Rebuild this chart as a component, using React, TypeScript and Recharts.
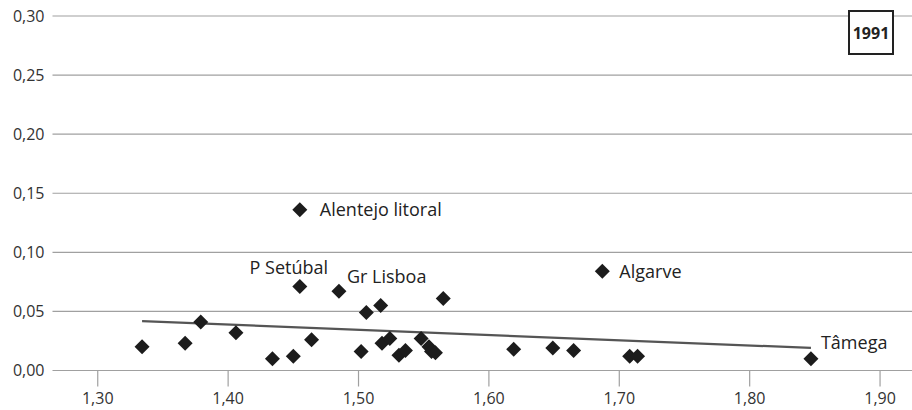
import React from 'react';
import { ScatterChart, Scatter, XAxis, YAxis, CartesianGrid, ReferenceLine } from 'recharts';

// ratio (x) vs index (y), NUTS III regions, 1991
const xValues = [
  1.334, 1.367, 1.379, 1.406, 1.434, 1.450, 1.455, 1.455, 1.464, 1.485,
  1.502, 1.506, 1.517, 1.518, 1.524, 1.531, 1.536, 1.548, 1.554, 1.556,
  1.559, 1.565, 1.619, 1.649, 1.665, 1.687, 1.708, 1.714, 1.847,
];
const yValues = [
  0.020, 0.023, 0.041, 0.032, 0.010, 0.012, 0.071, 0.136, 0.026, 0.067,
  0.016, 0.049, 0.055, 0.023, 0.027, 0.013, 0.017, 0.027, 0.020, 0.016,
  0.015, 0.061, 0.018, 0.019, 0.017, 0.084, 0.012, 0.012, 0.010,
];
const pointNames = [
  '', '', '', '', '', '', 'P Setúbal', 'Alentejo litoral', '', 'Gr Lisboa',
  '', '', '', '', '', '', '', '', '', '',
  '', '', '', '', '', 'Algarve', '', '', 'Tâmega',
];

const xTicks = [1.3, 1.4, 1.5, 1.6, 1.7, 1.8, 1.9];
const yTicks = [0, 0.05, 0.1, 0.15, 0.2, 0.25, 0.3];

// trend line end points
const trendStart = { x: 1.334, y: 0.0418 };
const trendEnd = { x: 1.847, y: 0.0191 };

const yearLabel = '1991';

const data = xValues.map((x, i) => ({ x, y: yValues[i], name: pointNames[i] }));

// where each annotation sits relative to its marker
const labelOffset: Record<string, { dx: number; dy: number; anchor: string }> = {
  'Alentejo litoral': { dx: 20, dy: 0, anchor: 'start' },
  Algarve: { dx: 17, dy: 0, anchor: 'start' },
  'P Setúbal': { dx: -11, dy: -19, anchor: 'middle' },
  'Gr Lisboa': { dx: 8, dy: -15, anchor: 'start' },
  'Tâmega': { dx: 10, dy: -16, anchor: 'start' },
};

const FONT = '"Open Sans", sans-serif';
const fmt = (v: number) => v.toFixed(2).replace('.', ',');

const Diamond = (props: any) => {
  const { cx, cy, payload } = props;
  const r = 7.5;
  const lbl = payload && payload.name ? labelOffset[payload.name] : null;
  return (
    <g>
      <polygon
        points={`${cx},${cy - r} ${cx + r},${cy} ${cx},${cy + r} ${cx - r},${cy}`}
        fill="#1c1c1c"
      />
      {lbl && (
        <text
          x={cx + lbl.dx}
          y={cy + lbl.dy}
          dy="0.36em"
          textAnchor={lbl.anchor}
          fontSize={18}
          fontFamily={FONT}
          fill="#222"
        >
          {payload.name}
        </text>
      )}
    </g>
  );
};

export default function App() {
  return (
    <div style={{ position: 'absolute', left: 0, top: 0, width: 912, height: 410, fontFamily: FONT }}>
      <ScatterChart width={912} height={410} margin={{ top: 16, right: 0, bottom: 0, left: 0 }}>
        <CartesianGrid vertical={false} stroke="#a0a0a0" strokeWidth={1.2} />
        <XAxis
          type="number"
          dataKey="x"
          domain={[1.2653, 1.9245]}
          ticks={xTicks}
          allowDataOverflow
          axisLine={false}
          tickSize={16}
          tickMargin={6}
          tickLine={{ stroke: '#a0a0a0', strokeWidth: 1.2 }}
          height={39.5}
          tickFormatter={fmt}
          tick={{ fontSize: 16, fontFamily: FONT, fill: '#333' }}
        />
        <YAxis
          type="number"
          dataKey="y"
          domain={[0, 0.3]}
          ticks={yTicks}
          width={52.5}
          axisLine={false}
          tickLine={false}
          tickFormatter={fmt}
          tick={{ fontSize: 16, fontFamily: FONT, fill: '#333' }}
        />
        <ReferenceLine
          segment={[trendStart, trendEnd]}
          stroke="#555"
          strokeWidth={2.2}
        />
        <Scatter data={data} shape={<Diamond />} isAnimationActive={false} />
      </ScatterChart>
      <div
        style={{
          position: 'absolute',
          left: 848,
          top: 10,
          width: 46,
          height: 45,
          boxSizing: 'border-box',
          border: '2px solid #222',
          background: '#fff',
          display: 'flex',
          alignItems: 'center',
          justifyContent: 'center',
          fontWeight: 700,
          fontSize: 16,
          color: '#222',
        }}
      >
        {yearLabel}
      </div>
    </div>
  );
}
